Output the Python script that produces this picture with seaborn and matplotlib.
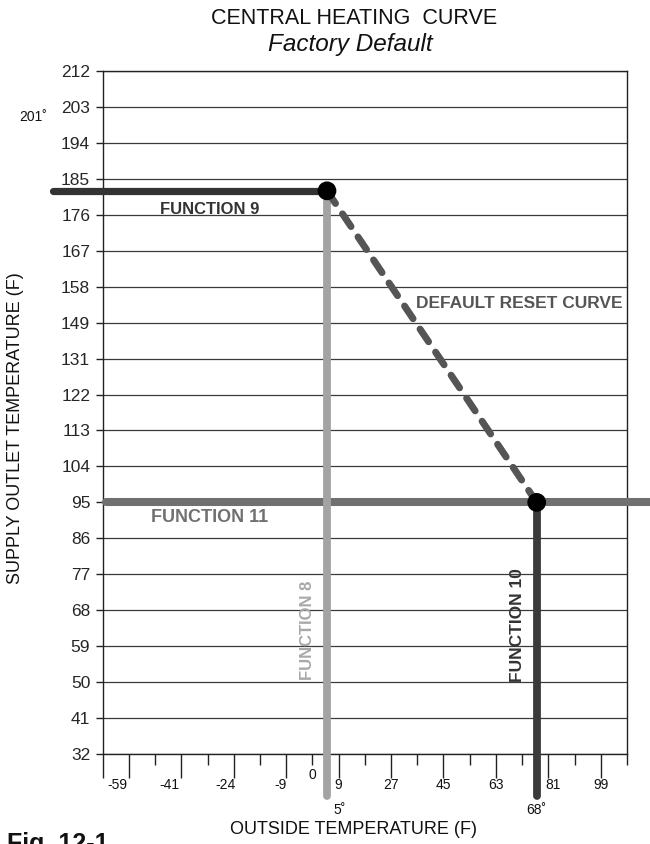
import numpy as np
import matplotlib
matplotlib.use("Agg")
import matplotlib.pyplot as plt
import seaborn as sns
import pandas as pd

# ---------------- data ----------------
supply_ticks = [32, 41, 50, 59, 68, 77, 86, 95, 104, 113, 122, 131,
                149, 158, 167, 176, 185, 194, 203, 212]
outdoor_tick_labels = ['-59', '-41', '-24', '-9', '0', '9', '27', '45', '63', '81', '99']
outdoor_tick_label_at = [-67, -49, -30, -11, 0, 9, 27, 45, 63, 82.5, 99]

reset_outdoor = [5, 77]      # design outdoor (F8) -> warm weather shutdown (F10)
reset_supply = [182, 95]     # max supply (F9) -> min supply (F11)
outdoor_marks = ['5˚', '68˚']
max_supply_mark = '201˚'

f9_x = [-89, reset_outdoor[0]]
f11_x = [-71, 125]
line_bottom = 21.5

# ---------------- style ----------------
sns.set_theme(style="white")
plt.rcParams['font.family'] = ['Liberation Sans', 'DejaVu Sans']
BOLD_FAM = ['Liberation Sans Narrow', 'Liberation Sans', 'DejaVu Sans']

W, H = 650, 844
fig = plt.figure(figsize=(W / 100, H / 100), dpi=100)
ax = fig.add_axes([102.7 / W, 1 - 754 / H, (627 - 102.7) / W, (754 - 71) / H])

def fx(px):
    return px / W

def fy(py):
    return 1 - py / H

# y scale: evenly spaced labelled rows
idx = np.arange(len(supply_ticks))
ext_v = np.r_[supply_ticks[0] - 900, supply_ticks, supply_ticks[-1] + 900]
ext_i = np.r_[-100, idx, idx[-1] + 100]
ax.set_yscale('function', functions=(lambda v: np.interp(v, ext_v, ext_i),
                                     lambda i: np.interp(i, ext_i, ext_v)))
ax.set_ylim(32, 212)
ax.set_xlim(-72, 108)

ax.set_yticks(supply_ticks)
ax.set_yticklabels([str(v) for v in supply_ticks])
ax.yaxis.grid(True, color='#3a3a3a', lw=0.9)
ax.xaxis.grid(False)
ax.set_axisbelow(True)

long_ticks = np.r_[-72, np.arange(-63, 100, 18)]
short_ticks = np.arange(-54, 109, 18)
ax.set_xticks(long_ticks)
ax.set_xticks(short_ticks, minor=True)
ax.tick_params(axis='x', which='major', direction='out', length=17, width=1,
               color='#222222', labelbottom=False, bottom=True)
ax.tick_params(axis='x', which='minor', direction='out', length=8, width=1,
               color='#222222', bottom=True)
ax.tick_params(axis='y', which='major', direction='out', length=5, width=1,
               color='#222222', labelsize=12.5, pad=4, left=True)
ax.tick_params(axis='y', which='minor', left=False)
for s in ax.spines.values():
    s.set_color('#222222')
    s.set_linewidth(1)

# x tick labels (hand-placed as in the figure)
for lab, pos in zip(outdoor_tick_labels, outdoor_tick_label_at):
    off = -15 if lab == '0' else -22.5
    ax.annotate(lab, xy=(pos, 0), xycoords=('data', 'axes fraction'),
                xytext=(0, off), textcoords='offset points',
                ha='center', va='center', fontsize=10, color='#111111')

# ---------------- function lines ----------------
sns.lineplot(x=f11_x, y=[reset_supply[1]] * 2, ax=ax, color='#707070', lw=5.8,
             solid_capstyle='round', clip_on=False, estimator=None, sort=False, zorder=3)
sns.lineplot(x=f9_x, y=[reset_supply[0]] * 2, ax=ax, color='#333333', lw=5.2,
             solid_capstyle='round', clip_on=False, estimator=None, sort=False, zorder=3)
sns.lineplot(x=[reset_outdoor[0]] * 2, y=[reset_supply[0], line_bottom], ax=ax,
             color='#a3a3a3', lw=5.6, solid_capstyle='round', clip_on=False,
             estimator=None, sort=False, zorder=3)
sns.lineplot(x=[reset_outdoor[1]] * 2, y=[reset_supply[1], line_bottom], ax=ax,
             color='#3a3a3a', lw=5.6, solid_capstyle='round', clip_on=False,
             estimator=None, sort=False, zorder=4)
sns.lineplot(x=reset_outdoor, y=reset_supply, ax=ax, color='#555555', lw=5,
             linestyle=(0, (2.2, 1.8)), dash_capstyle='round', clip_on=False,
             estimator=None, sort=False, zorder=4)
sns.scatterplot(x=reset_outdoor, y=reset_supply, ax=ax, s=13.5 ** 2, color='black',
                edgecolor='none', zorder=6, clip_on=False)

# ---------------- annotations ----------------
bold_kw = dict(fontweight='bold', family=BOLD_FAM, ha='center', va='center')
fig.text(fx(210), fy(209), 'FUNCTION 9', color='#333333', fontsize=12, **bold_kw)
fig.text(fx(519), fy(303), 'DEFAULT RESET CURVE', color='#555555', fontsize=12.5, **bold_kw)
fig.text(fx(210), fy(518), 'FUNCTION 11', color='#707070', fontsize=13, **bold_kw)
fig.text(fx(308), fy(630), 'FUNCTION 8', color='#a8a8a8', fontsize=12, rotation=90, **bold_kw)
fig.text(fx(518), fy(625), 'FUNCTION 10', color='#333333', fontsize=12.5, rotation=90, **bold_kw)

fig.text(fx(33), fy(117), max_supply_mark, fontsize=10, ha='center', va='center', color='#111111')
for lab, px in zip(outdoor_marks, [340, 536]):
    fig.text(fx(px), fy(810), lab, fontsize=10, ha='center', va='center', color='#111111')

fig.text(fx(354), fy(18), 'CENTRAL HEATING  CURVE', fontsize=15.5, ha='center', va='center', color='#111111')
fig.text(fx(350), fy(44), 'Factory Default', fontsize=17.5, style='italic', ha='center', va='center', color='#111111')
fig.text(fx(16), fy(428), 'SUPPLY OUTLET TEMPERATURE (F)', fontsize=13, rotation=90,
         ha='center', va='center', color='#111111')
fig.text(fx(354), fy(829), 'OUTSIDE TEMPERATURE (F)', fontsize=13, ha='center', va='center', color='#111111')
fig.text(fx(7), fy(832), 'Fig. 12-1', fontsize=18, fontweight='bold', ha='left', va='top', color='#111111')

ax.set_xlabel('')
ax.set_ylabel('')
fig.savefig('out.png', dpi=100)
